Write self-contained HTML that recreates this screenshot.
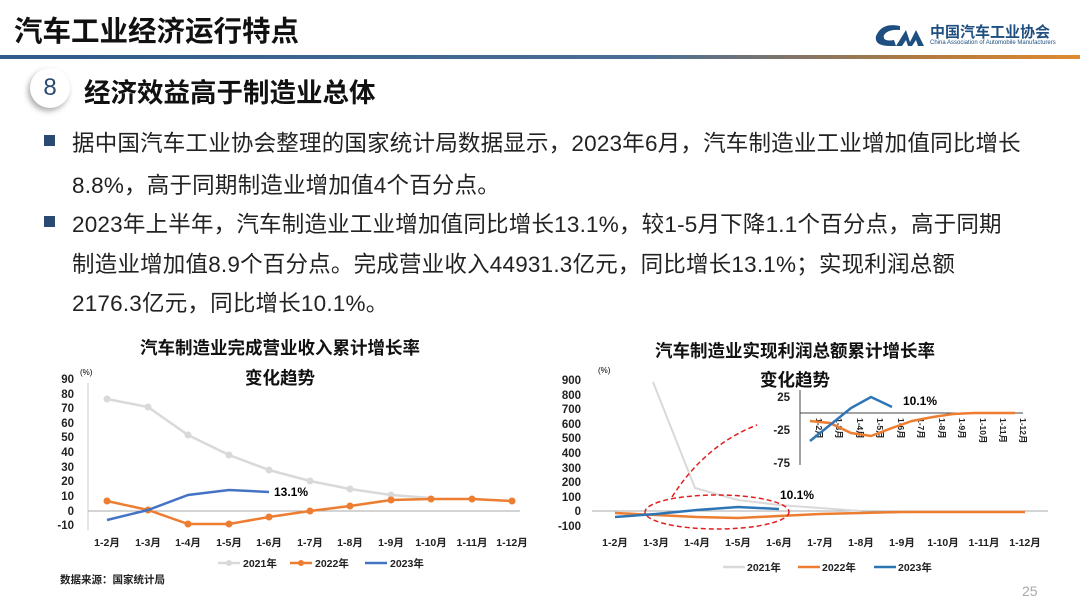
<!DOCTYPE html><html><head><meta charset="utf-8"><style>
body{margin:0;width:1080px;height:607px;overflow:hidden;background:#fff;font-family:"Liberation Sans","Noto Sans CJK SC",sans-serif;position:relative}
.a{position:absolute;white-space:nowrap}
.t{font-size:22.5px;letter-spacing:0.2px;color:#222;left:72px}
.b{position:absolute;left:44px;width:11px;height:11px;background:#2b4a73}
</style></head><body>
<div class="a" style="left:14px;top:9px;font-size:28.5px;font-weight:bold;color:#111">汽车工业经济运行特点</div>
<div class="a" style="left:0;top:55px;width:1080px;height:4px;background:linear-gradient(90deg,#2f5a8a,#4a6f96 60%,#b07a40 85%,#e08a30)"></div>
<svg class="a" style="left:872px;top:20px" width="60" height="30"><path d="M28 6 Q10 2 4 16 Q2 26 18 26 L24 26 L22 20 Q10 22 12 15 Q16 9 28 10Z" fill="#1f4f80"/><path d="M24 26 L34 10 L38 22 L44 10 L52 26 L46 26 L44 20 L40 26 L36 26 L34 20 L30 26Z" fill="#1f4f80"/></svg>
<div class="a" style="left:930px;top:21px;font-size:15px;font-weight:bold;color:#1f4f80">中国汽车工业协会</div>
<div class="a" style="left:930px;top:40px;font-size:6px;color:#1f4f80">China Association of Automobile Manufacturers</div>
<div class="a" style="left:30px;top:68px;width:40px;height:40px;border-radius:50%;background:#fff;box-shadow:-2px 3px 6px #aaa;text-align:center;line-height:40px;font-size:24px;color:#2b4a73">8</div>
<div class="a" style="left:84px;top:71px;font-size:26.5px;font-weight:bold;color:#111">经济效益高于制造业总体</div>
<div class="b" style="top:135px"></div><div class="a t" style="top:126px">据中国汽车工业协会整理的国家统计局数据显示，2023年6月，汽车制造业工业增加值同比增长</div>
<div class="a t" style="top:168px">8.8%，高于同期制造业增加值4个百分点。</div>
<div class="b" style="top:216px"></div><div class="a t" style="top:207px">2023年上半年，汽车制造业工业增加值同比增长13.1%，较1-5月下降1.1个百分点，高于同期</div>
<div class="a t" style="top:247px">制造业增加值8.9个百分点。完成营业收入44931.3亿元，同比增长13.1%；实现利润总额</div>
<div class="a t" style="top:286px">2176.3亿元，同比增长10.1%。</div>
<svg class="a" style="left:0;top:0" width="1080" height="607" font-family="Liberation Sans,Noto Sans CJK SC,sans-serif" font-weight="bold">
<g font-size="17.5" text-anchor="middle" fill="#111"><text x="280" y="354">汽车制造业完成营业收入累计增长率</text><text x="280" y="384">变化趋势</text>
<text x="795" y="357">汽车制造业实现利润总额累计增长率</text><text x="795" y="386">变化趋势</text></g>
<g font-size="11.5" fill="#222" text-anchor="end">
<text x="74" y="383">90</text><text x="74" y="398">80</text><text x="74" y="412">70</text><text x="74" y="427">60</text><text x="74" y="441">50</text><text x="74" y="456">40</text><text x="74" y="471">30</text><text x="74" y="485">20</text><text x="74" y="500">10</text><text x="74" y="515">0</text><text x="74" y="529">-10</text>
<text x="581" y="384">900</text><text x="581" y="399">800</text><text x="581" y="413">700</text><text x="581" y="428">600</text><text x="581" y="442">500</text><text x="581" y="457">400</text><text x="581" y="472">300</text><text x="581" y="486">200</text><text x="581" y="501">100</text><text x="581" y="515">0</text><text x="581" y="530">-100</text>
<text x="790" y="401">25</text><text x="790" y="434">-25</text><text x="790" y="467">-75</text></g>
<text x="80" y="375" font-size="8" font-weight="normal">(%)</text><text x="598" y="373" font-size="8" font-weight="normal">(%)</text>
<line x1="88" y1="383" x2="88" y2="530" stroke="#ccc"/><line x1="88" y1="511" x2="520" y2="511" stroke="#aaa"/>
<line x1="592" y1="511" x2="1048" y2="511" stroke="#aaa"/>
<g font-size="10.5" fill="#222" text-anchor="middle">
<text x="107" y="546">1-2月</text><text x="148" y="546">1-3月</text><text x="188" y="546">1-4月</text><text x="229" y="546">1-5月</text><text x="269" y="546">1-6月</text><text x="310" y="546">1-7月</text><text x="350" y="546">1-8月</text><text x="391" y="546">1-9月</text><text x="431" y="546">1-10月</text><text x="472" y="546">1-11月</text><text x="512" y="546">1-12月</text>
<text x="615" y="546">1-2月</text><text x="656" y="546">1-3月</text><text x="697" y="546">1-4月</text><text x="738" y="546">1-5月</text><text x="779" y="546">1-6月</text><text x="820" y="546">1-7月</text><text x="861" y="546">1-8月</text><text x="902" y="546">1-9月</text><text x="943" y="546">1-10月</text><text x="984" y="546">1-11月</text><text x="1025" y="546">1-12月</text></g>
<polyline fill="none" stroke="#d9d9d9" stroke-width="2.5" points="107,399 148,407 188,435 229,455 269,470 310,481 350,489 391,495 431,498"/>
<g fill="#d9d9d9"><circle cx="107" cy="399" r="3.5"/><circle cx="148" cy="407" r="3.5"/><circle cx="188" cy="435" r="3.5"/><circle cx="229" cy="455" r="3.5"/><circle cx="269" cy="470" r="3.5"/><circle cx="310" cy="481" r="3.5"/><circle cx="350" cy="489" r="3.5"/><circle cx="391" cy="495" r="3.5"/></g>
<polyline fill="none" stroke="#ed7d31" stroke-width="2.5" points="107,501 148,510 188,524 229,524 269,517 310,511 350,506 391,500 431,499 472,499 512,501"/>
<g fill="#ed7d31"><circle cx="107" cy="501" r="3.5"/><circle cx="148" cy="510" r="3.5"/><circle cx="188" cy="524" r="3.5"/><circle cx="229" cy="524" r="3.5"/><circle cx="269" cy="517" r="3.5"/><circle cx="310" cy="511" r="3.5"/><circle cx="350" cy="506" r="3.5"/><circle cx="391" cy="500" r="3.5"/><circle cx="431" cy="499" r="3.5"/><circle cx="472" cy="499" r="3.5"/><circle cx="512" cy="501" r="3.5"/></g>
<polyline fill="none" stroke="#4472c4" stroke-width="2.5" points="107,520 148,510 188,495 229,490 269,492"/>
<text x="274" y="496" font-size="12">13.1%</text>
<polyline fill="none" stroke="#d9d9d9" stroke-width="2" points="653,382 695,488 738,500 779,505 820,508 861,511"/>
<polyline fill="none" stroke="#ed7d31" stroke-width="2.5" points="615,513 656,515 697,517 738,518 779,516 820,514 861,513 902,512 943,512 984,512 1025,512"/>
<polyline fill="none" stroke="#2e75b6" stroke-width="2.5" points="615,517 656,514 697,510 738,507 779,509"/>
<text x="780" y="499" font-size="12">10.1%</text>
<ellipse cx="717" cy="512" rx="72" ry="17" fill="none" stroke="#e02020" stroke-width="1.5" stroke-dasharray="5,3"/>
<path d="M672 497 Q705 445 757 425" fill="none" stroke="#e02020" stroke-width="1.5" stroke-dasharray="5,3"/>
<line x1="800" y1="390" x2="800" y2="465" stroke="#444"/><line x1="800" y1="413" x2="1023" y2="413" stroke="#444"/>
<g font-size="8.5" fill="#222">
<text transform="translate(816,418) rotate(90)">1-2月</text><text transform="translate(836,418) rotate(90)">1-3月</text><text transform="translate(857,418) rotate(90)">1-4月</text><text transform="translate(877,418) rotate(90)">1-5月</text><text transform="translate(898,418) rotate(90)">1-6月</text><text transform="translate(918,418) rotate(90)">1-7月</text><text transform="translate(939,418) rotate(90)">1-8月</text><text transform="translate(959,418) rotate(90)">1-9月</text><text transform="translate(980,418) rotate(90)">1-10月</text><text transform="translate(1000,418) rotate(90)">1-11月</text><text transform="translate(1020,418) rotate(90)">1-12月</text></g>
<polyline fill="none" stroke="#ed7d31" stroke-width="2.5" points="810,421 830,423 851,433 871,436 892,428 912,421 933,417 953,414 974,413 994,413 1015,413"/>
<polyline fill="none" stroke="#2e75b6" stroke-width="2.5" points="810,441 830,425 851,408 871,397 892,407"/>
<text x="903" y="405" font-size="12">10.1%</text>
<g font-size="10.5" fill="#222">
<line x1="218" y1="563" x2="240" y2="563" stroke="#d9d9d9" stroke-width="2.5"/><circle cx="229" cy="563" r="3" fill="#d9d9d9"/><text x="243" y="567">2021年</text>
<line x1="290" y1="563" x2="312" y2="563" stroke="#ed7d31" stroke-width="2.5"/><circle cx="301" cy="563" r="3" fill="#ed7d31"/><text x="315" y="567">2022年</text>
<line x1="365" y1="563" x2="387" y2="563" stroke="#4472c4" stroke-width="2.5"/><text x="390" y="567">2023年</text>
<line x1="723" y1="567" x2="745" y2="567" stroke="#d9d9d9" stroke-width="2.5"/><text x="747" y="571">2021年</text>
<line x1="798" y1="567" x2="820" y2="567" stroke="#ed7d31" stroke-width="2.5"/><text x="822" y="571">2022年</text>
<line x1="874" y1="567" x2="896" y2="567" stroke="#2e75b6" stroke-width="2.5"/><text x="898" y="571">2023年</text>
<text x="60" y="583">数据来源：国家统计局</text></g>
<text x="1022" y="596" font-size="14" font-weight="normal" fill="#aaa">25</text>
</svg>
</body></html>
